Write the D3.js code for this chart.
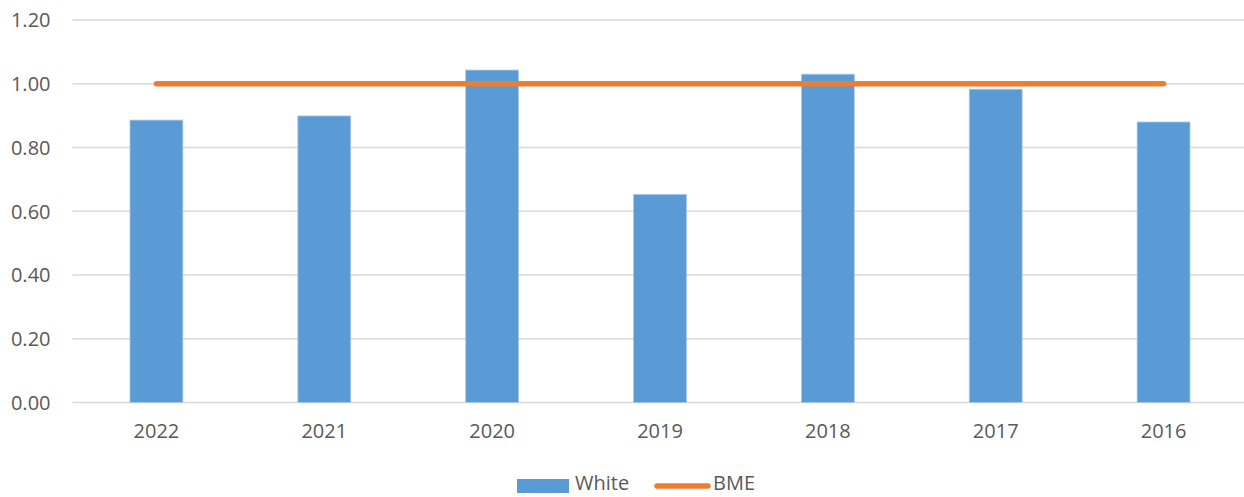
<!DOCTYPE html>
<html>
<head>
<meta charset="utf-8">
<script src="https://cdn.jsdelivr.net/npm/d3@7"></script>
<style>
  html, body { margin: 0; padding: 0; background: #fff; }
  svg { display: block; font-family: "Open Sans", sans-serif; }
</style>
</head>
<body>
<svg id="chart" width="1244" height="497"></svg>
<script>
// Ratio by year: White bars against the BME reference line
const years = ["2022", "2021", "2020", "2019", "2018", "2017", "2016"];
const whiteValues = [0.886, 0.899, 1.043, 0.653, 1.030, 0.983, 0.880];
const bmeValues = [1.00, 1.00, 1.00, 1.00, 1.00, 1.00, 1.00];
const yTicks = [0, 0.2, 0.4, 0.6, 0.8, 1.0, 1.2];
const seriesNames = ["White", "BME"];

const W = 1244, H = 497;
const margin = { left: 72.5, right: -3.5, top: 20, bottom: 94.5 };
const svg = d3.select("#chart");
const fontSize = 20;

const x = d3.scaleBand()
  .domain(years)
  .range([margin.left, W - margin.right])
  .paddingInner(0)
  .paddingOuter(0);

const y = d3.scaleLinear()
  .domain([0, 1.2])
  .range([H - margin.bottom, margin.top]);

const blue = "#5B9BD5", orange = "#ED7D31", grid = "#D9D9D9", text = "#595959";

// Gridlines
svg.append("g")
  .selectAll("line")
  .data(yTicks)
  .join("line")
  .attr("x1", margin.left)
  .attr("x2", W)
  .attr("y1", d => y(d))
  .attr("y2", d => y(d))
  .attr("stroke", grid)
  .attr("stroke-width", 1.5);

// Y axis labels
const yAxis = d3.axisLeft(y).tickValues(yTicks).tickFormat(d3.format(".2f")).tickSize(0).tickPadding(22);
svg.append("g")
  .attr("transform", `translate(${margin.left},0)`)
  .call(yAxis)
  .call(g => g.select(".domain").remove())
  .call(g => g.selectAll("text").attr("fill", text).attr("font-size", fontSize)
    .attr("font-family", "Open Sans, sans-serif").attr("dy", "0.34em"));

// Bars
const barW = x.bandwidth() * 0.315;
svg.append("g")
  .selectAll("rect")
  .data(years.map((yr, i) => ({ yr, v: whiteValues[i] })))
  .join("rect")
  .attr("x", d => x(d.yr) + x.bandwidth() / 2 - barW / 2)
  .attr("width", barW)
  .attr("y", d => y(d.v))
  .attr("height", d => y(0) - y(d.v))
  .attr("fill", blue)
  .attr("stroke", "#A9C9EA")
  .attr("stroke-width", 0.8);

// BME line
const line = d3.line()
  .x((d, i) => x(years[i]) + x.bandwidth() / 2)
  .y(d => y(d));
svg.append("path")
  .datum(bmeValues)
  .attr("d", line)
  .attr("fill", "none")
  .attr("stroke", orange)
  .attr("stroke-width", 5.5)
  .attr("stroke-linecap", "round");

// X axis labels
const xAxis = d3.axisBottom(x).tickSize(0).tickPadding(21);
svg.append("g")
  .attr("transform", `translate(0,${y(0)})`)
  .call(xAxis)
  .call(g => g.select(".domain").remove())
  .call(g => g.selectAll("text").attr("fill", text).attr("font-size", fontSize)
    .attr("font-family", "Open Sans, sans-serif"));

// Legend
const lg = svg.append("g");
const legendY = 485;
lg.append("rect").attr("x", 517).attr("y", legendY - 6).attr("width", 52).attr("height", 14).attr("fill", blue);
lg.append("text").attr("x", 575).attr("y", 490)
  .attr("fill", text).attr("font-size", fontSize).text(seriesNames[0]);
lg.append("line").attr("x1", 657).attr("x2", 708).attr("y1", legendY + 1).attr("y2", legendY + 1)
  .attr("stroke", orange).attr("stroke-width", 5.5).attr("stroke-linecap", "round");
lg.append("text").attr("x", 713).attr("y", 490)
  .attr("fill", text).attr("font-size", fontSize).text(seriesNames[1]);
</script>
</body>
</html>
